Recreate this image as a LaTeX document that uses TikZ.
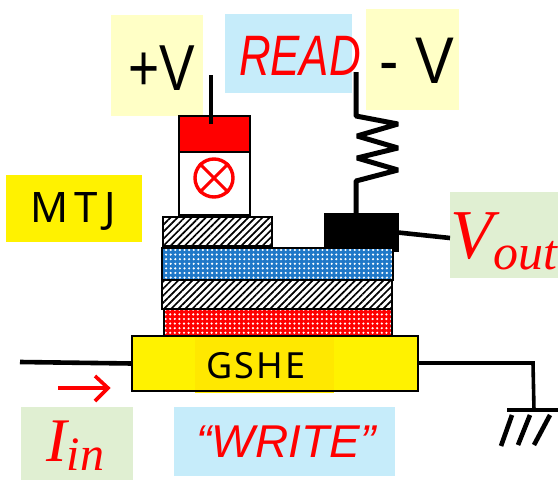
\documentclass[tikz,border=0pt]{standalone}
\usepackage{fontspec}
\setmainfont{Liberation Sans}
\newfontfamily\serifit[Ligatures=TeX]{Liberation Serif}
\newfontfamily\comicf[LetterSpace=6]{Noto Sans}
\newfontfamily\comicw[LetterSpace=15]{Noto Sans}
\usetikzlibrary{patterns.meta}
\definecolor{paleyellow}{HTML}{FFFFC6}
\definecolor{paleblue}{HTML}{C6ECFA}
\definecolor{palegreen}{HTML}{E0EFD2}
\definecolor{dotblue}{HTML}{1F78C8}
\definecolor{gsheinner}{HTML}{FFE800}
\tikzset{
  x=1pt,y=-1pt,
  panel/.style={inner sep=0pt,outer sep=0pt,anchor=north west},
  layer/.style={draw=black,line width=2pt,inner sep=0pt,outer sep=0pt,anchor=north west},
  wire/.style={line width=4.6pt,black},
  hatched/.style={layer,fill=white,pattern={Lines[angle=45,distance=5pt,line width=1.7pt]},pattern color=black},
  dotted blue/.style={layer,fill=white,preaction={fill=dotblue},pattern={Dots[distance=4.6pt,radius=1.2pt,xshift=0.5pt]},pattern color=white},
  dotted red/.style={layer,fill=white,preaction={fill=red},pattern={Dots[distance=4.6pt,radius=1.2pt]},pattern color=white},
  redtext/.style={text=red,inner sep=0pt},
}
\newcommand{\fsz}[1]{\fontsize{#1}{#1}\selectfont}
\begin{document}
\begin{tikzpicture}
\useasboundingbox (0,0) rectangle (558,480);
% background label panels
\node[panel,fill=paleyellow,minimum width=92pt,minimum height=101pt] (plusbg) at (111,15) {};
\node[panel,fill=paleblue,minimum width=127pt,minimum height=79pt] (readbg) at (225,14) {};
\node[panel,fill=paleyellow,minimum width=93pt,minimum height=101pt] (minusbg) at (366,9) {};
\node[panel,fill=yellow,minimum width=136pt,minimum height=67pt] (mtjbg) at (6,175) {};
\node[panel,fill=palegreen,minimum width=108pt,minimum height=86pt] (voutbg) at (450,192) {};
\node[panel,fill=palegreen,minimum width=112pt,minimum height=73pt] (iinbg) at (21,407) {};
\node[panel,fill=paleblue,minimum width=221pt,minimum height=69pt] (writebg) at (174,407) {};
% labels
\node[inner sep=0pt,text=black,xscale=.82] (plusv) at (162,68) {\fsz{65}+V};
\node[redtext,xscale=.77] (read) at (300,56) {\fsz{57}\itshape READ};
\node[inner sep=0pt,text=black,xscale=.88] (minusv) at (417,61) {\fsz{66}- V};
\node[inner sep=0pt,text=black] (mtj) at (73,211) {\fsz{42}\comicw MTJ};
\node[redtext] (vout) at (504,241) {\fsz{70}\serifit\itshape V\raisebox{-11pt}{\fsz{50}out}};
\node[redtext,anchor=west] (iin) at (46,446) {\fsz{62}\serifit\itshape I\raisebox{-9pt}{\fsz{48}in}};
\node[redtext] (write) at (286,442) {\fsz{46}\itshape “WRITE”};
% stack
\node[layer,fill=red,minimum width=71pt,minimum height=36pt] (top) at (179,116) {};
\node[layer,fill=white,minimum width=71pt,minimum height=63pt] (free) at (179,152) {};
\node[hatched,minimum width=109pt,minimum height=29pt] (hatchtop) at (163,217) {};
\node[layer,fill=black,minimum width=73pt,minimum height=37pt] (contact) at (325,214) {};
\node[dotted blue,minimum width=231pt,minimum height=32pt] (blue) at (162,248) {};
\node[hatched,minimum width=230pt,minimum height=29pt] (hatchmid) at (162,280) {};
\node[dotted red,minimum width=228pt,minimum height=27pt] (redl) at (164,309) {};
\node[layer,fill=yellow,minimum width=286pt,minimum height=55pt] (gshe) at (132,336) {};
\node[panel,fill=gsheinner,minimum width=139pt,minimum height=56pt] (gsheinner) at (195,337) {};
\draw[black,line width=2pt] (gshe.north west) rectangle (gshe.south east);
\node[inner sep=0pt,text=black] (gshetext) at (256,366) {\fsz{36}\comicf GSHE};
% spin symbol
\node[circle,draw=red,line width=3.4pt,minimum size=38pt,inner sep=0pt] (spin) at (214,178) {};
\draw[red,line width=3pt] (spin.north west) -- (spin.south east) (spin.north east) -- (spin.south west);
% coordinates
\coordinate (plusend) at (211,75);
\coordinate (plustop) at (211,124);
\coordinate (rtop) at (356,72);
\coordinate (vouthit) at (450,238);
\coordinate (inl) at (20,362);
\coordinate (gndtop) at (533,363);
\coordinate (gnd) at (534,410);
\coordinate (gndl) at (507,410);
\coordinate (gndr) at (558,410);
% wires
\draw[wire] (plusend) -- (plustop);
\draw[wire,line width=5pt,line join=bevel] (rtop) -- (356,116) -- (398,124) -- (357,136) -- (398,148) -- (357,158) -- (398,170) -- (356,181) -- (contact.north -| 356,214);
\draw[wire] (contact.east) -- (vouthit);
\draw[wire] (inl) -- (gshe.west);
\draw[wire,line width=3.6pt] (gshe.east |- gndtop) -- (gndtop) -- (gnd);
\draw[wire] (gndl) -- (gndr);
\draw[wire] (512,415) -- (501,446) (530,415) -- (518,445) (550,415) -- (534,445);
\draw[red,line width=3.6pt] (58,388) -- (106,388) (95,376) -- (108,388) -- (95,401);
\end{tikzpicture}
\end{document}
